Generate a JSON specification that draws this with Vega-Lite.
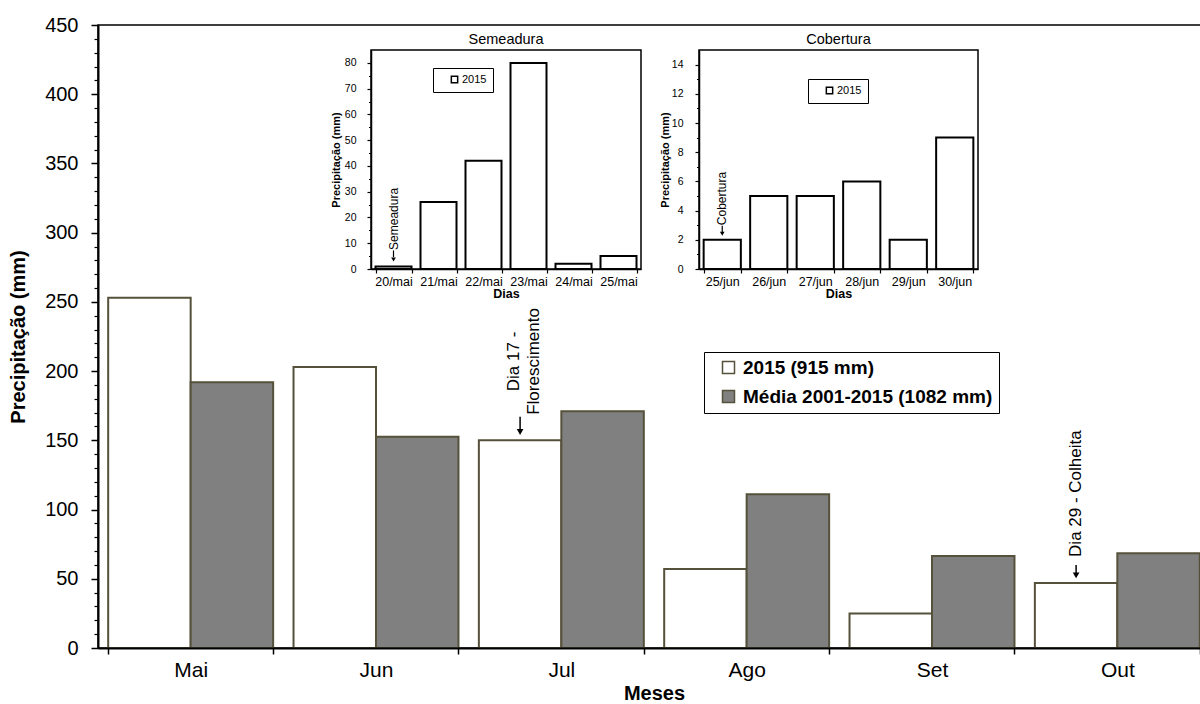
{
  "$schema": "https://vega.github.io/schema/vega-lite/v6.json",
  "width": 1112,
  "height": 623,
  "autosize": {"type": "none"},
  "padding": {"left": 98, "top": 25, "right": 0, "bottom": 56},
  "background": "white",
  "config": {
    "font": "Liberation Sans",
    "view": {"stroke": "black", "strokeWidth": 1.5},
    "axis": {"grid": false, "labelColor": "black", "titleColor": "black", "tickColor": "black", "domainColor": "black", "labelFont": "Liberation Sans", "titleFont": "Liberation Sans"},
    "legend": {"labelFont": "Liberation Sans", "labelColor": "black"},
    "text": {"font": "Liberation Sans", "color": "black"}
  },
  "datasets": {
    "mensal": [
      {"mes": "Mai", "serie": "2015 (915 mm)", "valor": 253},
      {"mes": "Mai", "serie": "Média 2001-2015 (1082 mm)", "valor": 192},
      {"mes": "Jun", "serie": "2015 (915 mm)", "valor": 203},
      {"mes": "Jun", "serie": "Média 2001-2015 (1082 mm)", "valor": 152.5},
      {"mes": "Jul", "serie": "2015 (915 mm)", "valor": 150},
      {"mes": "Jul", "serie": "Média 2001-2015 (1082 mm)", "valor": 171},
      {"mes": "Ago", "serie": "2015 (915 mm)", "valor": 57},
      {"mes": "Ago", "serie": "Média 2001-2015 (1082 mm)", "valor": 111},
      {"mes": "Set", "serie": "2015 (915 mm)", "valor": 25},
      {"mes": "Set", "serie": "Média 2001-2015 (1082 mm)", "valor": 66.5},
      {"mes": "Out", "serie": "2015 (915 mm)", "valor": 47},
      {"mes": "Out", "serie": "Média 2001-2015 (1082 mm)", "valor": 68.5}
    ],
    "setas": [
      {"mes": "Jul", "serie": "2015 (915 mm)", "y1": 167, "y2": 157.5, "ponta": 156},
      {"mes": "Out", "serie": "2015 (915 mm)", "y1": 60, "y2": 54, "ponta": 52.5}
    ],
    "semeadura": [
      {"dia": "20/mai", "s": "2015", "v": 1},
      {"dia": "21/mai", "s": "2015", "v": 26},
      {"dia": "22/mai", "s": "2015", "v": 42},
      {"dia": "23/mai", "s": "2015", "v": 80},
      {"dia": "24/mai", "s": "2015", "v": 2},
      {"dia": "25/mai", "s": "2015", "v": 5}
    ],
    "cobertura": [
      {"dia": "25/jun", "s": "2015", "v": 2},
      {"dia": "26/jun", "s": "2015", "v": 5},
      {"dia": "27/jun", "s": "2015", "v": 5},
      {"dia": "28/jun", "s": "2015", "v": 6},
      {"dia": "29/jun", "s": "2015", "v": 2},
      {"dia": "30/jun", "s": "2015", "v": 9}
    ]
  },
  "layer": [
    {
      "layer": [
        {
          "data": {"name": "mensal"},
          "mark": {"type": "bar", "stroke": "#55513a", "strokeWidth": 2},
          "encoding": {
            "x": {"field": "mes", "type": "nominal", "sort": ["Mai", "Jun", "Jul", "Ago", "Set", "Out"],
              "scale": {"paddingInner": 0.11, "paddingOuter": 0.055},
              "axis": {"orient": "bottom", "title": "Meses", "titleFontSize": 20, "titleFontWeight": "bold", "labelFontSize": 21, "labelPadding": 5, "tickSize": 6, "tickWidth": 1.5, "domainWidth": 2, "tickBand": "extent", "labelAngle": 0, "titlePadding": 3, "zindex": 1}},
            "xOffset": {"field": "serie", "type": "nominal", "scale": {"paddingInner": 0, "paddingOuter": 0}},
            "y": {"field": "valor", "type": "quantitative", "scale": {"domain": [0, 450], "nice": false},
              "axis": {"orient": "left", "values": [0, 50, 100, 150, 200, 250, 300, 350, 400, 450], "title": "Precipitação (mm)", "titleFontSize": 20, "titleFontWeight": "bold", "labelFontSize": 20, "labelPadding": 13, "tickSize": 7, "tickWidth": 1.5, "domainWidth": 2, "titlePadding": 16, "zindex": 1}},
            "color": {"field": "serie", "type": "nominal",
              "scale": {"domain": ["2015 (915 mm)", "Média 2001-2015 (1082 mm)"], "range": ["white", "#808080"]},
              "legend": {"orient": "none", "legendX": 606, "legendY": 327, "title": null, "symbolType": "square", "symbolSize": 144, "symbolStrokeColor": "#55513a", "symbolStrokeWidth": 1.5, "labelFontSize": 19, "labelFontWeight": "bold", "labelOffset": 5, "rowPadding": 9, "padding": 6, "symbolOffset": 9, "strokeColor": "black", "labelLimit": 400}}
          }
        },
        {
          "data": {"values": [{"mes": "Jul", "serie": "2015 (915 mm)", "y": 207, "t": ["Dia 17 -", "Florescimento"]}]},
          "mark": {"type": "text", "angle": 270, "align": "center", "baseline": "middle", "fontSize": 17, "lineHeight": 20, "dy": -6},
          "encoding": {
            "x": {"field": "mes", "type": "nominal", "sort": ["Mai", "Jun", "Jul", "Ago", "Set", "Out"]},
            "xOffset": {"field": "serie", "type": "nominal"},
            "y": {"field": "y", "type": "quantitative", "title": "Precipitação (mm)"},
            "text": {"field": "t"}
          }
        },
        {
          "data": {"values": [{"mes": "Out", "serie": "2015 (915 mm)", "y": 65.8, "t": "Dia 29 - Colheita"}]},
          "mark": {"type": "text", "angle": 270, "align": "left", "baseline": "middle", "fontSize": 17},
          "encoding": {
            "x": {"field": "mes", "type": "nominal", "sort": ["Mai", "Jun", "Jul", "Ago", "Set", "Out"]},
            "xOffset": {"field": "serie", "type": "nominal"},
            "y": {"field": "y", "type": "quantitative", "title": "Precipitação (mm)"},
            "text": {"field": "t"}
          }
        },
        {
          "data": {"name": "setas"},
          "mark": {"type": "rule", "color": "black", "strokeWidth": 1.5},
          "encoding": {
            "x": {"field": "mes", "type": "nominal", "sort": ["Mai", "Jun", "Jul", "Ago", "Set", "Out"]},
            "xOffset": {"field": "serie", "type": "nominal"},
            "y": {"field": "y1", "type": "quantitative", "title": "Precipitação (mm)"},
            "y2": {"field": "y2"}
          }
        },
        {
          "data": {"name": "setas"},
          "mark": {"type": "point", "shape": "triangle-down", "filled": true, "color": "black", "size": 45, "opacity": 1},
          "encoding": {
            "x": {"field": "mes", "type": "nominal", "sort": ["Mai", "Jun", "Jul", "Ago", "Set", "Out"]},
            "xOffset": {"field": "serie", "type": "nominal"},
            "y": {"field": "ponta", "type": "quantitative", "title": "Precipitação (mm)"}
          }
        }
      ]
    },
    {
      "data": {"values": [{"v": 0}]},
      "mark": {"type": "rule", "opacity": 0},
      "encoding": {
        "y": {"field": "v", "type": "quantitative", "scale": {"domain": [0, 450], "nice": false},
          "axis": {"orient": "left", "values": [10, 20, 30, 40, 60, 70, 80, 90, 110, 120, 130, 140, 160, 170, 180, 190, 210, 220, 230, 240, 260, 270, 280, 290, 310, 320, 330, 340, 360, 370, 380, 390, 410, 420, 430, 440], "labels": false, "domain": false, "tickSize": 4, "tickWidth": 1.2, "title": null}}
      }
    },
    {
      "layer": [
        {
          "data": {"name": "semeadura"},
          "layer": [
            {
              "mark": {"type": "bar", "stroke": "black", "strokeWidth": 2},
              "encoding": {
                "x": {"field": "dia", "type": "nominal", "scale": {"range": [273, 543], "paddingInner": 0.2, "paddingOuter": 0.1},
                  "axis": {"orient": "bottom", "offset": -379, "title": "Dias", "titleFontSize": 12.5, "titleFontWeight": "bold", "labelFontSize": 12.5, "labelPadding": 2, "tickSize": 4, "tickWidth": 1.2, "domainWidth": 1.5, "tickBand": "extent", "labelAngle": 0, "titlePadding": 0, "labelOverlap": false}},
                "y": {"field": "v", "type": "quantitative", "scale": {"domain": [0, 85], "nice": false, "range": [244, 25]},
                  "axis": {"orient": "left", "offset": -273, "values": [0, 10, 20, 30, 40, 50, 60, 70, 80], "title": "Precipitação (mm)", "titleFontSize": 11, "titleFontWeight": "bold", "labelFontSize": 10.5, "labelPadding": 11, "tickSize": 4, "tickWidth": 1.2, "domainWidth": 1.5, "titlePadding": 3}},
                "color": {"field": "s", "type": "nominal", "scale": {"range": ["white"]},
                  "legend": {"orient": "none", "legendX": 335, "legendY": 43, "title": null, "symbolType": "square", "symbolSize": 40, "symbolStrokeColor": "black", "symbolStrokeWidth": 1.5, "labelFontSize": 11, "labelOffset": 2, "padding": 6, "symbolOffset": 10, "strokeColor": "black"}}
              }
            },
            {
              "transform": [{"filter": "datum.dia === '20/mai'"}],
              "mark": {"type": "text", "angle": 270, "align": "left", "baseline": "middle", "fontSize": 12, "text": "Semeadura"},
              "encoding": {
                "x": {"field": "dia", "type": "nominal", "title": "Dias"},
                "y": {"datum": 7.4, "type": "quantitative", "title": "Precipitação (mm)"}
              }
            },
            {
              "transform": [{"filter": "datum.dia === '20/mai'"}],
              "mark": {"type": "rule", "color": "black", "strokeWidth": 1.2},
              "encoding": {
                "x": {"field": "dia", "type": "nominal", "title": "Dias"},
                "y": {"datum": 7.2, "type": "quantitative", "title": "Precipitação (mm)"},
                "y2": {"datum": 4.6}
              }
            },
            {
              "transform": [{"filter": "datum.dia === '20/mai'"}],
              "mark": {"type": "point", "shape": "triangle-down", "filled": true, "color": "black", "size": 22, "opacity": 1},
              "encoding": {
                "x": {"field": "dia", "type": "nominal", "title": "Dias"},
                "y": {"datum": 3.7, "type": "quantitative", "title": "Precipitação (mm)"}
              }
            }
          ]
        },
        {
          "data": {"values": [{"t": "Semeadura"}]},
          "layer": [
            {
              "mark": {"type": "rect", "fill": "transparent", "stroke": "black", "strokeWidth": 1.5},
              "encoding": {
                "x": {"datum": 0, "type": "quantitative", "scale": {"domain": [0, 1], "range": [273, 543]}, "axis": null},
                "x2": {"datum": 1},
                "y": {"datum": 0, "type": "quantitative", "title": "Precipitação (mm)"},
                "y2": {"datum": 85}
              }
            },
            {
              "mark": {"type": "text", "fontSize": 14.5, "baseline": "middle", "dy": -10},
              "encoding": {
                "x": {"datum": 0.5, "type": "quantitative"},
                "y": {"datum": 85, "type": "quantitative", "title": "Precipitação (mm)"},
                "text": {"field": "t"}
              }
            }
          ]
        }
      ],
      "resolve": {"scale": {"x": "independent"}, "axis": {"x": "independent"}}
    },
    {
      "data": {"values": [{"v": 0}]},
      "mark": {"type": "rule", "opacity": 0},
      "encoding": {
        "y": {"field": "v", "type": "quantitative", "scale": {"domain": [0, 85], "nice": false, "range": [244, 25]},
          "axis": {"orient": "left", "offset": -273, "values": [5, 15, 25, 35, 45, 55, 65, 75], "labels": false, "domain": false, "tickSize": 2.5, "tickWidth": 1, "title": null}}
      }
    },
    {
      "layer": [
        {
          "data": {"name": "cobertura"},
          "layer": [
            {
              "mark": {"type": "bar", "stroke": "black", "strokeWidth": 2},
              "encoding": {
                "x": {"field": "dia", "type": "nominal", "scale": {"range": [601, 880], "paddingInner": 0.2, "paddingOuter": 0.1},
                  "axis": {"orient": "bottom", "offset": -379, "title": "Dias", "titleFontSize": 12.5, "titleFontWeight": "bold", "labelFontSize": 12.5, "labelPadding": 2, "tickSize": 4, "tickWidth": 1.2, "domainWidth": 1.5, "tickBand": "extent", "labelAngle": 0, "titlePadding": 0, "labelOverlap": false}},
                "y": {"field": "v", "type": "quantitative", "scale": {"domain": [0, 15], "nice": false, "range": [244, 25]},
                  "axis": {"orient": "left", "offset": -601, "values": [0, 2, 4, 6, 8, 10, 12, 14], "title": "Precipitação (mm)", "titleFontSize": 11, "titleFontWeight": "bold", "labelFontSize": 10.5, "labelPadding": 12, "tickSize": 4, "tickWidth": 1.2, "domainWidth": 1.5, "titlePadding": 1}},
                "color": {"field": "s", "type": "nominal", "scale": {"range": ["white"]},
                  "legend": {"orient": "none", "legendX": 710, "legendY": 54, "title": null, "symbolType": "square", "symbolSize": 40, "symbolStrokeColor": "black", "symbolStrokeWidth": 1.5, "labelFontSize": 11, "labelOffset": 2, "padding": 6, "symbolOffset": 10, "strokeColor": "black"}}
              }
            },
            {
              "transform": [{"filter": "datum.dia === '25/jun'"}],
              "mark": {"type": "text", "angle": 270, "align": "left", "baseline": "middle", "fontSize": 12, "text": "Cobertura"},
              "encoding": {
                "x": {"field": "dia", "type": "nominal", "title": "Dias"},
                "y": {"datum": 3.0, "type": "quantitative", "title": "Precipitação (mm)"}
              }
            },
            {
              "transform": [{"filter": "datum.dia === '25/jun'"}],
              "mark": {"type": "rule", "color": "black", "strokeWidth": 1.2},
              "encoding": {
                "x": {"field": "dia", "type": "nominal", "title": "Dias"},
                "y": {"datum": 2.97, "type": "quantitative", "title": "Precipitação (mm)"},
                "y2": {"datum": 2.52}
              }
            },
            {
              "transform": [{"filter": "datum.dia === '25/jun'"}],
              "mark": {"type": "point", "shape": "triangle-down", "filled": true, "color": "black", "size": 22, "opacity": 1},
              "encoding": {
                "x": {"field": "dia", "type": "nominal", "title": "Dias"},
                "y": {"datum": 2.42, "type": "quantitative", "title": "Precipitação (mm)"}
              }
            }
          ]
        },
        {
          "data": {"values": [{"t": "Cobertura"}]},
          "layer": [
            {
              "mark": {"type": "rect", "fill": "transparent", "stroke": "black", "strokeWidth": 1.5},
              "encoding": {
                "x": {"datum": 0, "type": "quantitative", "scale": {"domain": [0, 1], "range": [601, 880]}, "axis": null},
                "x2": {"datum": 1},
                "y": {"datum": 0, "type": "quantitative", "title": "Precipitação (mm)"},
                "y2": {"datum": 15}
              }
            },
            {
              "mark": {"type": "text", "fontSize": 14.5, "baseline": "middle", "dy": -10},
              "encoding": {
                "x": {"datum": 0.5, "type": "quantitative"},
                "y": {"datum": 15, "type": "quantitative", "title": "Precipitação (mm)"},
                "text": {"field": "t"}
              }
            }
          ]
        }
      ],
      "resolve": {"scale": {"x": "independent"}, "axis": {"x": "independent"}}
    },
    {
      "data": {"values": [{"v": 0}]},
      "mark": {"type": "rule", "opacity": 0},
      "encoding": {
        "y": {"field": "v", "type": "quantitative", "scale": {"domain": [0, 15], "nice": false, "range": [244, 25]},
          "axis": {"orient": "left", "offset": -601, "values": [1, 3, 5, 7, 9, 11, 13], "labels": false, "domain": false, "tickSize": 2.5, "tickWidth": 1, "title": null}}
      }
    }
  ],
  "resolve": {
    "scale": {"x": "independent", "y": "independent", "xOffset": "independent", "color": "independent"},
    "axis": {"x": "independent", "y": "independent"},
    "legend": {"color": "independent"}
  }
}
